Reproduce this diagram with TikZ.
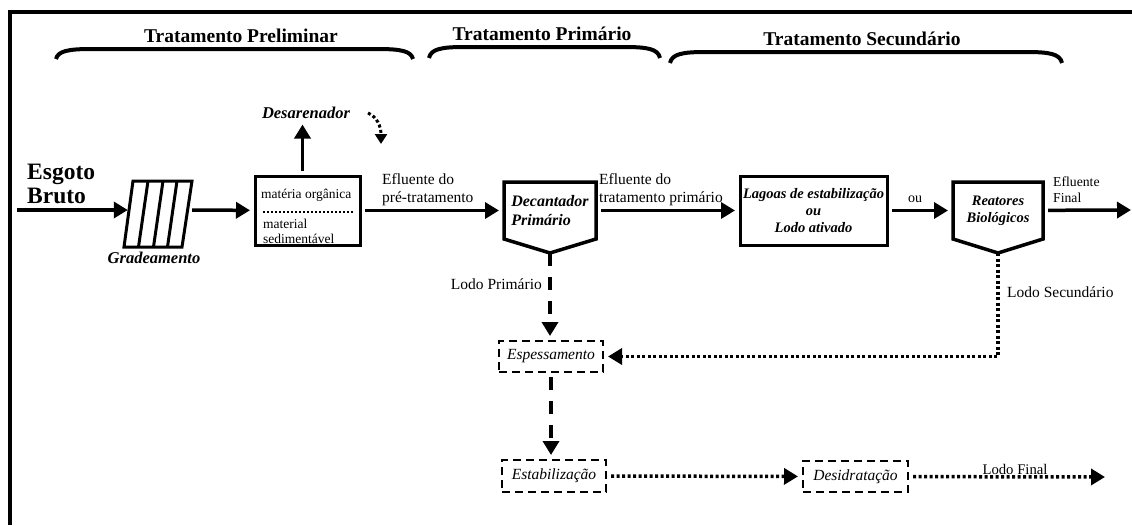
\documentclass[tikz,border=0pt]{standalone}
\usepackage{fontspec}
\setmainfont{Liberation Serif}
\usetikzlibrary{arrows.meta}
\begin{document}
\begin{tikzpicture}[x=1pt,y=-1pt,
  seta/.style={-{Triangle[length=14pt,width=16pt]}, line width=3.5pt},
  pontos/.style={line width=3.5pt, dash pattern=on 3pt off 2.5pt},
  tracos/.style={line width=4pt, dash pattern=on 13pt off 11pt},
  caixa/.style={draw, line width=3pt, inner sep=0pt, outer sep=5pt},
  caixatr/.style={draw, line width=2.8pt, dash pattern=on 8pt off 5pt, inner sep=0pt, outer sep=5pt, font=\fontsize{15.5}{18}\selectfont\itshape},
  pent/.style={minimum height=57pt, inner sep=0pt, outer sep=5pt},
  chave/.style={line width=4pt},
  titulo/.style={font=\fontsize{19.5}{22}\selectfont\bfseries, anchor=base},
  rotulo/.style={font=\fontsize{15.5}{18}\selectfont, inner sep=0pt, align=left}]
  \useasboundingbox (0,0) rectangle (1132,525);

  % Moldura
  \draw[line width=3.5pt] (1132,12) -- (10,12) -- (10,525);

  % Titulos
  \node[titulo] (tprel) at (241,42) {Tratamento Preliminar};
  \node[titulo] (tprim) at (542,40) {Tratamento Primário};
  \node[titulo] (tsec) at (862,45) {Tratamento Secundário};

  % Chaves
  \draw[chave] (56,59) .. controls (58,51) and (68,49) .. (92,49) -- (377,49) .. controls (401,49) and (411,51) .. (413,59);
  \draw[chave] (429,58) .. controls (431,49) and (441,47) .. (465,47) -- (624,47) .. controls (648,47) and (658,49) .. (660,58);
  \draw[chave] (670,63) .. controls (672,54) and (682,52) .. (706,52) -- (1026,52) .. controls (1050,52) and (1060,54) .. (1062,63);

  % Nos
  \coordinate (ent) at (17,210);
  \node[font=\fontsize{23.5}{24}\selectfont\bfseries, align=left, anchor=west, inner sep=0pt] (esgoto) at (27,184) {Esgoto\\Bruto};
  \node[inner sep=0pt, minimum width=64pt, minimum height=66pt] (grade) at (160,210) {};
  \draw[line width=3pt] (124,247) -- (133,181) -- (192,181) -- (182,247) -- cycle;
  \foreach \x in {148,163,177}
    \draw[line width=3pt] (\x,181) -- (\x-9.5,247);
  \node[font=\fontsize{16.5}{19}\selectfont\bfseries\itshape, anchor=base] (gradlab) at (154,263) {Gradeamento};

  \node[caixa, minimum width=105pt, minimum height=69pt] (mat) at (307.5,210.5) {};
  \node[anchor=base west, inner sep=0pt, font=\fontsize{13.5}{15}\selectfont] (mo) at (261,198) {matéria orgânica};
  \draw[line width=2.5pt, dash pattern=on 2pt off 2pt] (263,212) -- (353,212);
  \node[anchor=west, align=left, inner sep=0pt, font=\fontsize{13.5}{15}\selectfont] (ms) at (263,231) {material\\sedimentável};
  \node[font=\fontsize{16.5}{19}\selectfont\bfseries\itshape, anchor=base, outer sep=3pt] (desar) at (306,118) {Desarenador};

  \node[pent, minimum width=92pt, align=left, font=\fontsize{16}{19}\selectfont\bfseries\itshape] (dec) at (550,210.5) {Decantador\\Primário};
  \draw[line width=3.5pt] (504,182) -- (596,182) -- (596,239) -- (550,253) -- (504,239) -- cycle;
  \coordinate (dect) at (550,253);

  \node[caixa, minimum width=147pt, minimum height=69pt, align=center, font=\fontsize{14.5}{17}\selectfont\bfseries\itshape] (lag) at (813.5,210.5) {Lagoas de estabilização\\ou\\Lodo ativado};

  \node[pent, minimum width=90pt, align=center, font=\fontsize{14.5}{17}\selectfont\bfseries\itshape] (reat) at (998,210.5) {Reatores\\Biológicos};
  \draw[line width=3.5pt] (953,182) -- (1043,182) -- (1043,239) -- (998,253) -- (953,239) -- cycle;
  \coordinate (reatt) at (998,253);
  \coordinate (sai) at (1131,210);

  \node[caixatr, minimum width=104pt, minimum height=31pt] (esp) at (551,356.5) {Espessamento};
  \node[caixatr, minimum width=104pt, minimum height=32pt] (est) at (554,476) {Estabilização};
  \node[caixatr, minimum width=105pt, minimum height=31pt] (des) at (855.5,476.5) {Desidratação};
  \coordinate (fim) at (1105,477);

  % Rotulos
  \node[rotulo, anchor=west] (efl1) at (382,189.5) {Efluente do\\pré-tratamento};
  \node[rotulo, anchor=west] (efl2) at (599,189.5) {Efluente do\\tratamento primário};
  \node[anchor=west, align=left, inner sep=0pt, font=\fontsize{13.7}{16}\selectfont] (efl3) at (1053,189.5) {Efluente\\Final};
  \node[anchor=base, inner sep=0pt, font=\fontsize{14}{16}\selectfont] (ou) at (915,202) {ou};
  \node[rotulo, anchor=base east] (lp) at (542,289) {Lodo Primário};
  \node[rotulo, anchor=base west] (ls) at (1007,297) {Lodo Secundário};
  \node[anchor=base, inner sep=0pt, font=\fontsize{14.7}{17}\selectfont] (lf) at (1015,474) {Lodo Final};

  % Setas
  \draw[seta] (ent) -- (grade);
  \draw[seta] (grade) -- (mat);
  \draw[seta] ([xshift=-5pt]mat.north) -- ([xshift=-5pt]mat.north |- desar.south);
  \draw[pontos, line width=3pt, -{Triangle[length=10pt,width=12pt]}] (368,113) .. controls (377,117) and (381,126) .. (381,144);
  \draw[seta] (mat) -- (dec);
  \draw[seta] (dec) -- (lag);
  \draw[seta] (lag) -- (reat);
  \draw[seta] (reat) -- (sai);
  \draw[seta, tracos] (dect) -- (dect |- esp.north);
  \draw[seta, tracos] (esp.south) -- (esp.south |- est.north);
  \draw[seta, pontos] (reatt) |- (esp.east);
  \draw[seta, pontos] (est) -- (des);
  \draw[seta, pontos] (des) -- (fim);
\end{tikzpicture}
\end{document}
